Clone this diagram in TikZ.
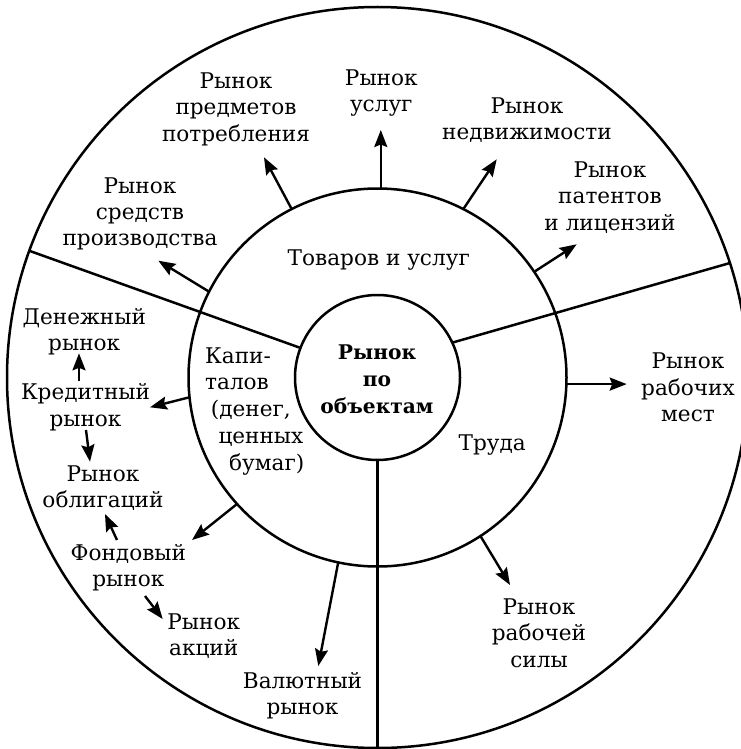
\documentclass[tikz,border=0pt]{standalone}
\usepackage{fontspec}
\setmainfont{DejaVu Serif}
\usetikzlibrary{arrows.meta}
\begin{document}
\begin{tikzpicture}[x=1pt,y=-1pt,
  ring/.style={circle, draw, line width=2.5pt, inner sep=0pt, outer sep=0pt},
  divider/.style={line width=2.5pt},
  arr/.style={line width=2.4pt, -{Stealth[length=17pt,width=13pt,inset=2.5pt]}},
  lbl/.style={align=center, anchor=base, inner sep=0pt, font=\fontsize{21.6}{26.5}\selectfont},
  ctr/.style={lbl, font=\fontsize{20.2}{26.7}\selectfont\bfseries}]
\useasboundingbox (0,0) rectangle (740,749);
% rings
\node[ring, minimum size=741pt] (outer) at (377.5,377.5) {};
\node[ring, minimum size=378pt] (mid) at (377.5,377.5) {};
\node[ring, minimum size=165pt] (inner) at (377.5,377.5) {};
% dividers
\draw[divider] (inner.159.8) -- (outer.160.9);
\draw[divider] (inner.25.3) -- (outer.18.85);
\draw[divider] (inner.270) -- (outer.270);
% labels (anchor = baseline of the last line)
\node[ctr] (centre) at (377,413) {Рынок\\по\\объектам};
\node[lbl] (tovar) at (378.8,265) {Товаров и услуг};
\node[lbl] (trud) at (492.2,450.7) {Труда};
\node[lbl, align=left, anchor=base west, font=\fontsize{21.6}{26.7}\selectfont] (kapital) at (205,470)
  {Капи-\\талов\\\hspace*{5.7pt}(денег,\\\hspace*{13.3pt}ценных\\\hspace*{24pt}бумаг)};
\node[lbl, font=\fontsize{21.6}{26}\selectfont] (sredstv) at (140,245) {Рынок\\средств\\производства};
\node[lbl, font=\fontsize{21.6}{26.3}\selectfont] (predm) at (236,141) {Рынок\\предметов\\потребления};
\node[lbl] (uslug) at (381.3,112) {Рынок\\услуг};
\node[lbl] (nedv) at (527,139.5) {Рынок\\недвижимости};
\node[lbl] (patent) at (610,230) {Рынок\\патентов\\и лицензий};
\node[lbl] (rabmest) at (688,421.5) {Рынок\\рабочих\\мест};
\node[lbl] (rabsil) at (539,667) {Рынок\\рабочей\\силы};
\node[lbl] (valut) at (302.5,714.5) {Валютный\\рынок};
\node[lbl] (akcii) at (203.7,655.5) {Рынок\\акций};
\node[lbl] (fond) at (128.3,586.5) {Фондовый\\рынок};
\node[lbl] (oblig) at (103,507.5) {Рынок\\облигаций};
\node[lbl] (kred) at (85.5,426) {Кредитный\\рынок};
\node[lbl] (den) at (84.2,350.5) {Денежный\\рынок};
% arrow tips
\coordinate (t-sredstv) at (158.3,260.7);
\coordinate (t-predm) at (264,157.3);
\coordinate (t-uslug) at (380.8,130);
\coordinate (t-nedv) at (496.7,159.3);
\coordinate (t-patent) at (576.7,244.3);
\coordinate (t-rabmest) at (626.7,386.7);
\coordinate (t-rabsil) at (510,585);
\coordinate (t-valut) at (318.3,666);
\coordinate (t-fond) at (192,540);
\coordinate (t-kred) at (150,407.3);
\coordinate (s-kd) at (79,380.7);   \coordinate (t-kd) at (79,353.3);
\coordinate (s-ko) at (86,430);     \coordinate (t-ko) at (90,461.7);
\coordinate (s-fo) at (117,540);    \coordinate (t-fo) at (105,514);
\coordinate (s-fa) at (145,596);    \coordinate (t-fa) at (162.7,619);
% arrows
\draw[arr] (mid.153.8) -- (t-sredstv);
\draw[arr] (mid.117.6) -- (t-predm);
\draw[arr] (mid.89) -- (mid.89 |- t-uslug);
\draw[arr] (mid.63.8) -- (t-nedv);
\draw[arr] (mid.34) -- (t-patent);
\draw[arr] (mid.-2.8) -- (mid.-2.8 -| t-rabmest);
\draw[arr] (mid.-57.4) -- (t-rabsil);
\draw[arr] (mid.-102.4) -- (t-valut);
\draw[arr] (mid.222.1) -- (t-fond);
\draw[arr] (mid.186.3) -- (t-kred);
\draw[arr] (s-kd) -- (t-kd);
\draw[arr] (s-ko) -- (t-ko);
\draw[arr] (s-fo) -- (t-fo);
\draw[arr] (s-fa) -- (t-fa);
\end{tikzpicture}
\end{document}
